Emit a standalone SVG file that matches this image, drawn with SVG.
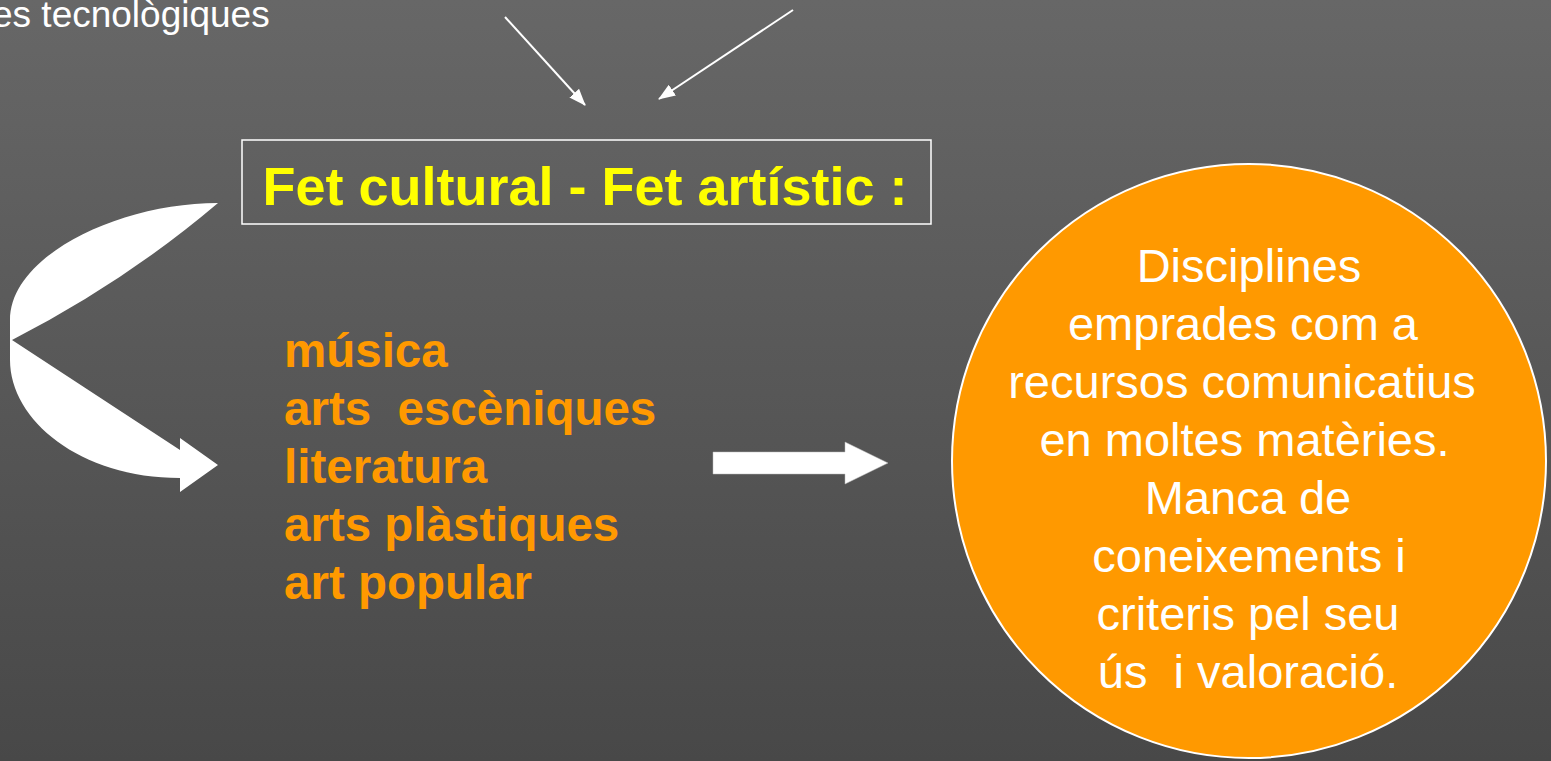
<svg xmlns="http://www.w3.org/2000/svg" width="1551" height="761" viewBox="0 0 1551 761">
<defs>
<linearGradient id="bg" x1="0" y1="0" x2="0" y2="1">
<stop offset="0" stop-color="#676767"/>
<stop offset="1" stop-color="#484848"/>
</linearGradient>
<marker id="ah2" viewBox="0 0 17 13" refX="16" refY="6.5" markerWidth="17" markerHeight="13" markerUnits="userSpaceOnUse" orient="auto">
<path d="M0,0 L17,6.5 L0,13 z" fill="#ffffff"/>
</marker>
</defs>
<style>
.w{font-family:"Liberation Sans",Arial,sans-serif;fill:#ffffff}
.or{font-family:"Liberation Sans",Arial,sans-serif;font-weight:bold;font-size:47.5px;fill:#ff9900}
.ct{font-family:"Liberation Sans",Arial,sans-serif;font-size:47px;fill:#ffffff;text-anchor:middle}
.ln{stroke:#ffffff;stroke-width:2;fill:none}
</style>
<rect x="0" y="0" width="1551" height="761" fill="url(#bg)"/>
<g id="top-text">
<text class="w" x="-8" y="27" font-size="37">es tecnològiques</text>
</g>
<g id="connectors">
<line class="ln" x1="505" y1="17" x2="585" y2="105" marker-end="url(#ah2)"/>
<line class="ln" x1="793" y1="10" x2="659" y2="99" marker-end="url(#ah2)"/>
<path d="M218,203 C120,203 10,255 10,320 L10,360 C10,420 80,478 180,478 L180,492 L218,465 L180,438 L180,450 L12,340 Q125,282 218,203 Z" fill="#ffffff"/>
<path d="M713,452 L845,452 L845,442 L888,463 L845,484 L845,474 L713,474 Z" fill="#ffffff" stroke="#bbbbbb" stroke-width="0.5"/>
</g>
<g id="title">
<rect x="242" y="140" width="689" height="84" fill="none" stroke="#ffffff" stroke-width="1.5"/>
<text x="585" y="205" font-family="Liberation Sans, Arial, sans-serif" font-weight="bold" font-size="54" fill="#ffff00" text-anchor="middle">Fet cultural - Fet artístic :</text>
</g>
<g id="list">
<text class="or" x="284" y="367">música</text>
<text class="or" x="284" y="425" xml:space="preserve">arts  escèniques</text>
<text class="or" x="284" y="483">literatura</text>
<text class="or" x="284" y="541">arts plàstiques</text>
<text class="or" x="284" y="599">art popular</text>
</g>
<g id="circle">
<circle cx="1249" cy="461" r="297" fill="#ff9900" stroke="#ffffff" stroke-width="2"/>
<text class="ct" x="1249" y="282">Disciplines</text>
<text class="ct" x="1243" y="340">emprades com a</text>
<text class="ct" x="1242" y="398">recursos comunicatius</text>
<text class="ct" x="1238" y="456" xml:space="preserve"> en moltes matèries.</text>
<text class="ct" x="1248" y="514">Manca de</text>
<text class="ct" x="1249" y="572">coneixements i</text>
<text class="ct" x="1248" y="630">criteris pel seu</text>
<text class="ct" x="1248" y="688" xml:space="preserve">ús  i valoració.</text>
</g>
</svg>
